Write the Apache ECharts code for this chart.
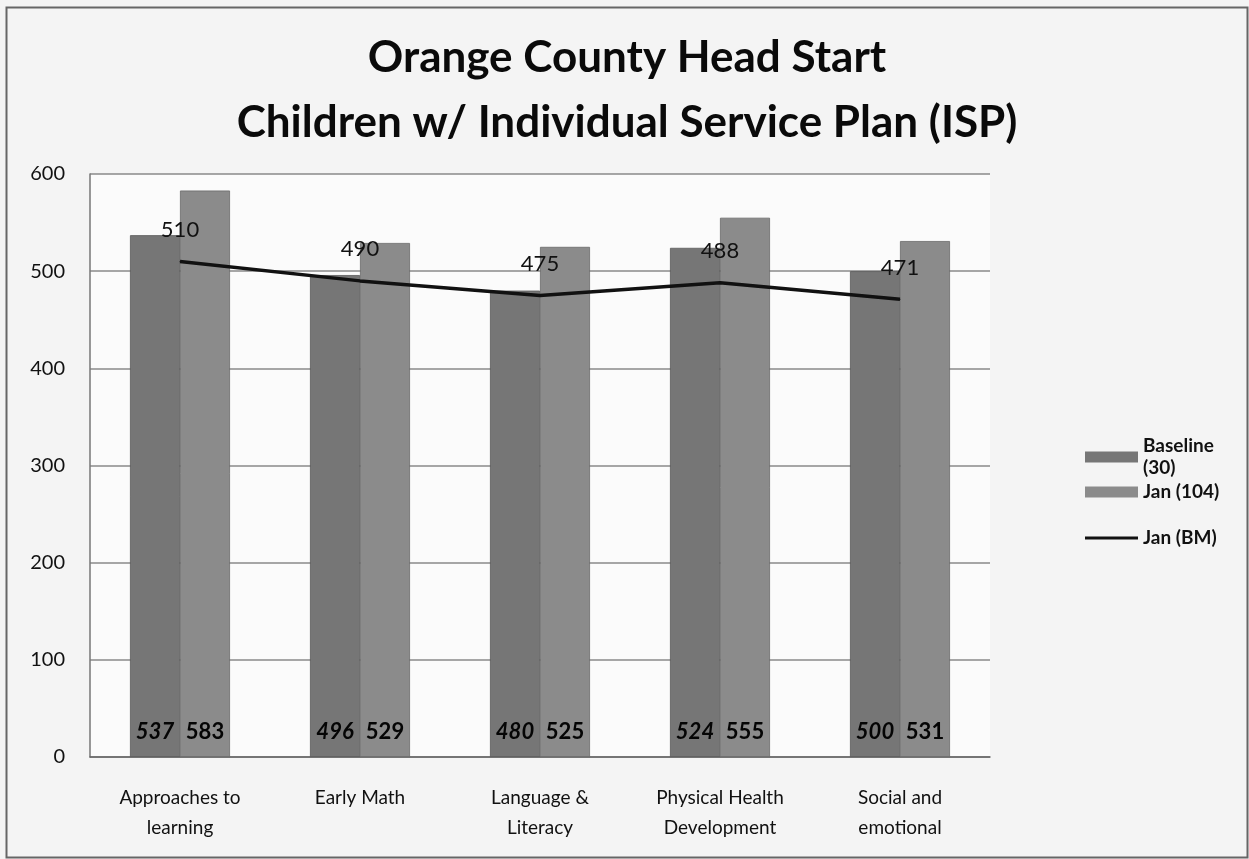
<!DOCTYPE html>
<html><head><meta charset="utf-8">
<script src="https://cdn.jsdelivr.net/npm/echarts@6/dist/echarts.min.js"></script>
<style>html,body{margin:0;padding:0;background:#f4f4f4}#c{width:1249px;height:859px}</style>
</head><body><div id="c"></div>
<script>
var categories = ['Approaches to\nlearning', 'Early Math', 'Language &\nLiteracy', 'Physical Health\nDevelopment', 'Social and\nemotional'];
var baseline = [537, 496, 480, 524, 500];
var jan104 = [583, 529, 525, 555, 531];
var janBM = [510, 490, 475, 488, 471];
var yTicks = [0, 100, 200, 300, 400, 500, 600];
var FONT = 'Lato, "Open Sans", sans-serif';

var chart = echarts.init(document.getElementById('c'));
var legText = {fontSize: 19, fontWeight: 'bold', color: '#111', fontFamily: FONT, lineHeight: 22};
chart.setOption({
  backgroundColor: '#f4f4f4',
  animation: false,
  textStyle: {fontFamily: FONT},
  title: {
    text: 'Orange County Head Start\nChildren w/ Individual Service Plan (ISP)',
    left: 622, top: 20, textAlign: 'center',
    textStyle: {fontSize: 44, fontWeight: 'bold', color: '#0a0a0a', lineHeight: 65, fontFamily: FONT}
  },
  graphic: [{
    type: 'rect', left: 4, top: 5, shape: {width: 1241, height: 850},
    style: {fill: 'none', stroke: '#666', lineWidth: 2}, silent: true
  }],
  grid: {left: 90, right: 259, top: 174, bottom: 102, show: true, backgroundColor: '#fbfbfb', borderWidth: 0},
  legend: [{
    orient: 'vertical', left: 1080, top: 430, itemWidth: 53, itemHeight: 11, itemGap: 2,
    icon: 'rect', itemStyle: {borderWidth: 0},
    textStyle: legText,
    formatter: function (n) { return n === 'Baseline (30)' ? 'Baseline\n(30)' : n; },
    data: ['Baseline (30)', 'Jan (104)']
  }, {
    orient: 'vertical', left: 1080, top: 522, itemWidth: 53, itemHeight: 3,
    textStyle: legText,
    data: [{name: 'Jan (BM)', icon: 'rect', itemStyle: {color: '#111', borderWidth: 0}}]
  }],
  xAxis: {
    type: 'category', data: categories,
    axisTick: {show: false},
    axisLine: {lineStyle: {color: '#666', width: 1.5}},
    axisLabel: {fontSize: 19, color: '#111', margin: 26, lineHeight: 30, interval: 0}
  },
  yAxis: {
    type: 'value', min: 0, max: 600, interval: 100,
    axisLine: {show: true, lineStyle: {color: '#777', width: 1.5}},
    axisTick: {show: false},
    axisLabel: {fontSize: 20, color: '#111', margin: 25,
      formatter: function (v) { return yTicks.indexOf(v) >= 0 ? String(v) : ''; }},
    splitLine: {lineStyle: {color: '#8a8a8a', width: 1.5}}
  },
  series: [
    {
      name: 'Baseline (30)', type: 'bar', data: baseline, barWidth: 50, barGap: '0%',
      itemStyle: {color: '#767676', borderColor: '#5a5a5a', borderWidth: 0.8},
      label: {show: true, position: 'insideBottom', distance: 14, fontSize: 22, fontWeight: 'bold', fontStyle: 'italic', color: '#050505', fontFamily: FONT}
    },
    {
      name: 'Jan (104)', type: 'bar', data: jan104, barWidth: 50,
      itemStyle: {color: '#8b8b8b', borderColor: '#6a6a6a', borderWidth: 0.8},
      label: {show: true, position: 'insideBottom', distance: 14, fontSize: 22, fontWeight: 'bold', color: '#050505', fontFamily: FONT}
    },
    {
      name: 'Jan (BM)', type: 'line', data: janBM, z: 5,
      symbol: 'circle', symbolSize: 1,
      lineStyle: {color: '#111', width: 3.5}, itemStyle: {color: '#111'},
      label: {show: true, position: 'top', distance: 20, fontSize: 22, color: '#111', fontFamily: FONT}
    }
  ]
});
</script></body></html>
